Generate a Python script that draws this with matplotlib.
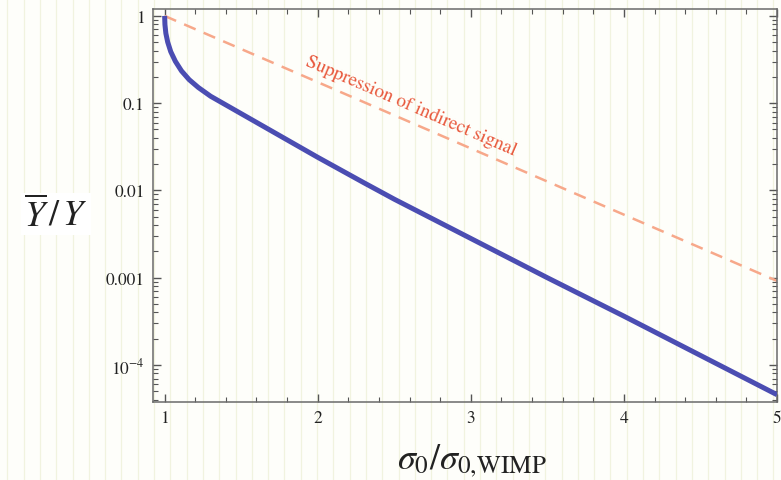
import numpy as np
import matplotlib
matplotlib.use("Agg")
import matplotlib.pyplot as plt
from matplotlib.ticker import FixedLocator, LogLocator, NullFormatter, FixedFormatter

plt.rcParams['mathtext.fontset'] = 'stix'
plt.rcParams['font.family'] = ['STIXGeneral', 'Liberation Serif', 'DejaVu Serif']

# Data (ratio sigma0/sigma0,WIMP, log10 of Ybar/Y)
x_curve = [1.0, 1.002, 1.008, 1.02, 1.04, 1.07, 1.11, 1.16, 1.22, 1.3,
           1.4, 1.5, 1.65, 1.8, 2.0, 2.3, 2.5, 2.7, 3.0, 3.5, 4.0, 4.5, 5.0]
log_y_curve = [0.0, -0.10, -0.20, -0.30, -0.41, -0.52, -0.63, -0.73, -0.82,
               -0.92, -1.02, -1.12, -1.27, -1.42, -1.62, -1.91, -2.10, -2.28,
               -2.55, -3.00, -3.44, -3.89, -4.34]
y_curve = [10 ** v for v in log_y_curve]

x_dash = [1.0, 5.0]
y_dash = [1.0, 0.00092]

x_ticks = [1, 2, 3, 4, 5]
x_ticklabels = ['1', '2', '3', '4', '5']
y_ticks = [1, 0.1, 0.01, 0.001, 1e-4]
y_ticklabels = ['1', '0.1', '0.01', '0.001', r'$10^{-4}$']

annotation = 'Suppression of indirect signal'

W, H = 781, 481
fig = plt.figure(figsize=(W / 100, H / 100), dpi=100)
fig.patch.set_facecolor('#fefefa')

# striped paper background
bg = fig.add_axes([0, 0, 1, 1], zorder=-5)
bg.set_xlim(0, W)
bg.set_ylim(0, H)
bg.axis('off')
for xs in np.arange(7.3, W, 16.3):
    bg.axvline(xs, color='#f1f3df', lw=0.9)

left, right, top, bottom = 153, 777, 10, 403
ax = fig.add_axes([left / W, 1 - bottom / H, (right - left) / W, (bottom - top) / H])
ax.set_facecolor('none')
ax.set_yscale('log')
ax.set_xlim(0.924, 5.0)
ax.set_ylim(3.77e-5, 1.2)

ax.plot(x_dash, y_dash, color='#f7a88a', lw=1.8, dashes=(5, 3.5), zorder=2)
ax.plot(x_curve, y_curve, color='#4b4db2', lw=3.6, solid_capstyle='butt',
        solid_joinstyle='round', zorder=3)

ax.xaxis.set_major_locator(FixedLocator(x_ticks))
ax.xaxis.set_major_formatter(FixedFormatter(x_ticklabels))
ax.xaxis.set_minor_locator(FixedLocator(np.arange(1.0, 5.01, 0.2)))
ax.yaxis.set_major_locator(FixedLocator(y_ticks))
ax.yaxis.set_major_formatter(FixedFormatter(y_ticklabels))
ax.yaxis.set_minor_locator(LogLocator(base=10, subs=np.arange(2, 10), numticks=20))
ax.yaxis.set_minor_formatter(NullFormatter())

for s in ax.spines.values():
    s.set_color('#6a6a6a')
    s.set_linewidth(1.1)
ax.tick_params(which='both', direction='in', top=True, right=True, color='#555555',
               labelsize=12.5, labelcolor='#222222')
ax.tick_params(which='major', length=6, width=1.0, pad=6)
ax.tick_params(which='minor', length=3.5, width=0.8)

# annotation along the dashed line
p0 = ax.transData.transform((x_dash[0], y_dash[0]))
p1 = ax.transData.transform((x_dash[1], y_dash[1]))
ang = np.degrees(np.arctan2(p1[1] - p0[1], p1[0] - p0[0]))
ax.text(2.61, 0.094, annotation, rotation=ang, rotation_mode='anchor',
        ha='center', va='center', fontsize=13.8, color='#e8583c')

fig.text(56 / W, 1 - 215 / H, r'$\overline{Y}\,/\,Y$', fontsize=26, ha='center', va='center',
         color='#222222', bbox=dict(facecolor='white', edgecolor='none', pad=2))
fig.text(472 / W, 1 - 461 / H, r'$\sigma_0/\sigma_{0{,}\mathrm{WIMP}}$', fontsize=26,
         ha='center', va='center', color='#222222')

fig.savefig('out.png', dpi=100, facecolor=fig.get_facecolor())
